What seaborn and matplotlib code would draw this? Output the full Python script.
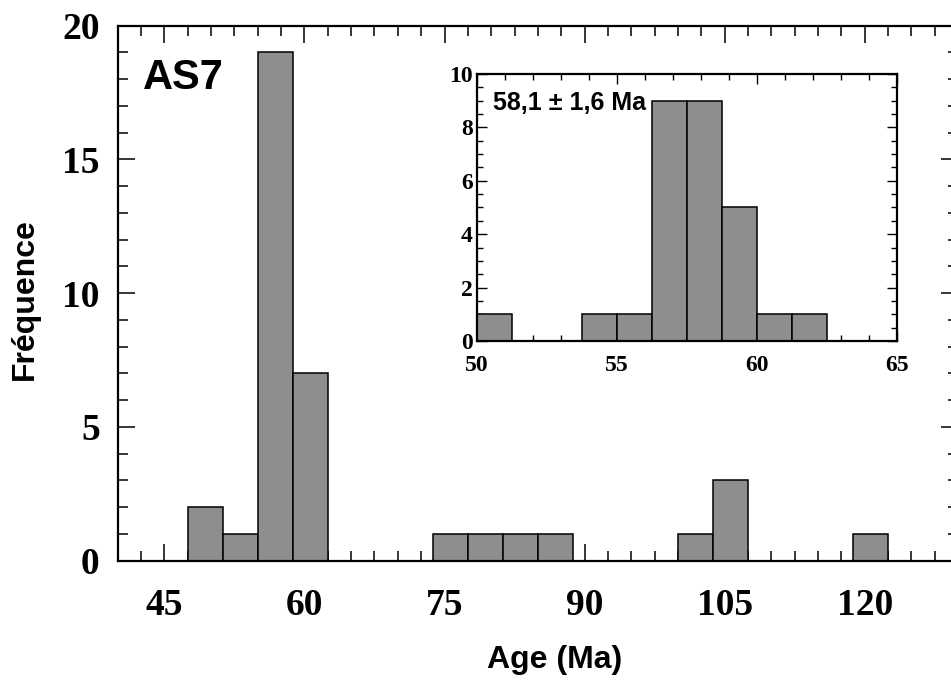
import numpy as np
import pandas as pd
import matplotlib
matplotlib.use("Agg")
import matplotlib.pyplot as plt
from matplotlib.ticker import MultipleLocator
import seaborn as sns

# ---------------------------------------------------------------------------
# Data
# ---------------------------------------------------------------------------
# main histogram: left edge of each non-empty bin and its count (bin width 3.75 Ma)
main_bin_left = [47.5, 51.25, 55.0, 58.75, 73.75, 77.5, 81.25, 85.0, 100.0, 103.75, 118.75]
main_counts = [2, 1, 19, 7, 1, 1, 1, 1, 1, 3, 1]
main_width = 3.75

# inset histogram: left edge of each non-empty bin and its count (bin width 1.25 Ma)
inset_bin_left = [50.0, 53.75, 55.0, 56.25, 57.5, 58.75, 60.0, 61.25]
inset_counts = [1, 1, 1, 9, 9, 5, 1, 1]
inset_width = 1.25

main_xticks = [45, 60, 75, 90, 105, 120]
main_yticks = [0, 5, 10, 15, 20]
inset_xticks = [50, 55, 60, 65]
inset_yticks = [0, 2, 4, 6, 8, 10]

sample_label = "AS7"
age_label = "58,1 ± 1,6 Ma"

sns.set_style("ticks")
plt.rcParams['font.family'] = ['Liberation Sans', 'DejaVu Sans']
plt.rcParams['text.color'] = 'black'
plt.rcParams['axes.labelcolor'] = 'black'
plt.rcParams['xtick.color'] = 'black'
plt.rcParams['ytick.color'] = 'black'

BAR = "#8e8e8e"
SERIF = ['Liberation Serif', 'DejaVu Serif']


def to_frame(lefts, counts, width):
    return pd.DataFrame({'age': [l + width / 2 for l in lefts], 'n': counts})


def style_axes(ax, lw):
    for s in ax.spines.values():
        s.set_visible(True)
        s.set_linewidth(lw)
        s.set_color('black')


fig = plt.figure(figsize=(9.51, 6.85), dpi=100)

# ---- main panel ----
ax = fig.add_axes([0.1238, 0.1815, 0.8836, 0.781])
main_df = to_frame(main_bin_left, main_counts, main_width)
sns.histplot(data=main_df, x='age', weights='n', binwidth=main_width,
             binrange=(main_bin_left[0], main_bin_left[-1] + main_width),
             color=BAR, edgecolor='black', linewidth=1.1, alpha=1, ax=ax)
ax.set_xlim(40, 130)
ax.set_ylim(0, 20)
ax.set_xticks(main_xticks)
ax.set_yticks(main_yticks)
ax.xaxis.set_minor_locator(MultipleLocator(2.5))
ax.yaxis.set_minor_locator(MultipleLocator(1))
ax.tick_params(which='both', direction='in', top=True, right=True, width=1.1,
               color='black', labelcolor='black')
ax.tick_params(which='major', length=12)
ax.tick_params(which='minor', length=7)
ax.tick_params(axis='x', which='major', pad=20)
ax.tick_params(axis='y', which='major', pad=13)
for lab in ax.get_xticklabels() + ax.get_yticklabels():
    lab.set_family(SERIF)
    lab.set_fontweight('bold')
    lab.set_fontsize(27)
style_axes(ax, 1.6)
ax.set_xlabel('Age (Ma)', fontsize=23, fontweight='bold', color='black')
ax.set_ylabel('Fréquence', fontsize=23, fontweight='bold', color='black')
ax.xaxis.set_label_coords(0.520, -0.186)
ax.yaxis.set_label_coords(-0.110, 0.489)
ax.xaxis.label.set_va('center')
ax.yaxis.label.set_va('center')
ax.text(0.0298, 0.8817, sample_label, transform=ax.transAxes, fontsize=30,
        fontweight='bold', ha='left', va='baseline', color='black')

# ---- inset ----
ins = fig.add_axes([0.5013, 0.5022, 0.4416, 0.3898])
inset_df = to_frame(inset_bin_left, inset_counts, inset_width)
sns.histplot(data=inset_df, x='age', weights='n', binwidth=inset_width,
             binrange=(inset_bin_left[0], inset_bin_left[-1] + inset_width),
             color=BAR, edgecolor='black', linewidth=1.1, alpha=1, ax=ins)
ins.set_xlim(50, 65)
ins.set_ylim(0, 10)
ins.set_xticks(inset_xticks)
ins.set_yticks(inset_yticks)
ins.xaxis.set_minor_locator(MultipleLocator(1))
ins.yaxis.set_minor_locator(MultipleLocator(0.5))
ins.tick_params(which='both', direction='in', top=True, right=True, width=1.0,
                color='black', labelcolor='black')
ins.tick_params(which='major', length=7)
ins.tick_params(which='minor', length=4)
ins.tick_params(axis='x', which='major', pad=10)
ins.tick_params(axis='y', which='major', pad=3)
for lab in ins.get_xticklabels() + ins.get_yticklabels():
    lab.set_family(SERIF)
    lab.set_fontweight('bold')
    lab.set_fontsize(17)
style_axes(ins, 1.6)
ins.set_xlabel('')
ins.set_ylabel('')
ins.text(0.0395, 0.865, age_label, transform=ins.transAxes, fontsize=18,
         fontweight='bold', ha='left', va='baseline', color='black')

fig.savefig('out.png', dpi=100)
